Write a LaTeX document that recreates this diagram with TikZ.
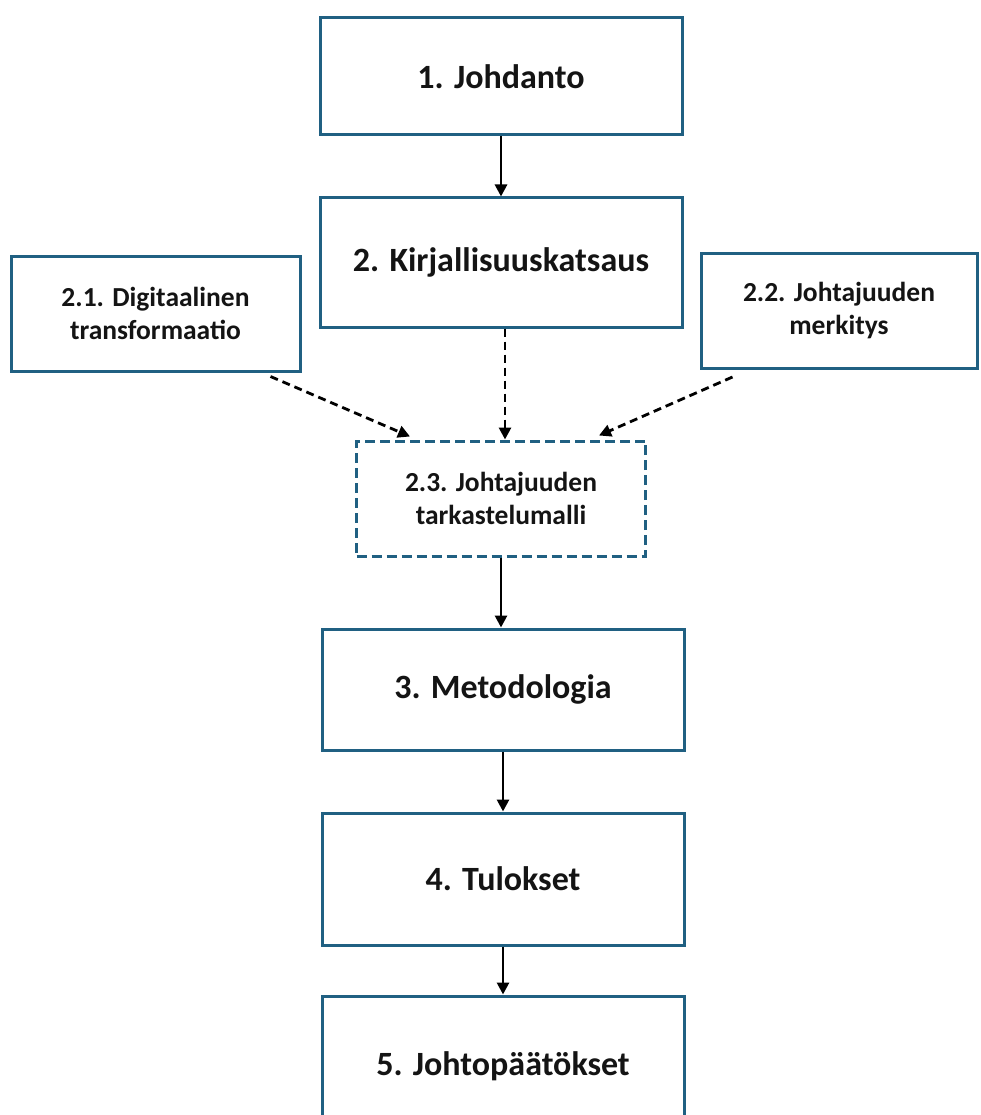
\documentclass[tikz,border=0pt]{standalone}
\usepackage{fontspec}
\setmainfont{Carlito}
\usepackage{tikz}
\usetikzlibrary{arrows.meta,positioning,calc}
\definecolor{boxblue}{RGB}{32,96,130}
\definecolor{textblack}{RGB}{20,20,20}
\tikzset{
  mainbox/.style={draw=boxblue, line width=3pt, minimum width=362pt, align=center,
    fill=white, text=textblack, font=\fontsize{34}{40}\selectfont\bfseries},
  subbox/.style={draw=boxblue, line width=3pt, minimum width=289pt, minimum height=115pt,
    align=center, fill=white, text=textblack, font=\fontsize{27.5}{33}\selectfont\bfseries},
  modelbox/.style={subbox, dash pattern=on 10pt off 5pt},
  flow/.style={-{Triangle[length=12pt,width=12pt]}, line width=2.8pt},
  dashedflow/.style={flow, dash pattern=on 8pt off 5pt}
}

\begin{document}
\begin{tikzpicture}[x=1pt,y=-1pt]
\clip (0,0) rectangle (980,1115);
\useasboundingbox (0,0) rectangle (980,1115);

\node[mainbox, minimum height=117pt] (j) at (501,76.5) {1. Johdanto};
\node[mainbox, minimum height=129pt, below=60pt of j] (k) {2. Kirjallisuuskatsaus};
\node[subbox] (dt) at (155.5,313.5) {2.1. Digitaalinen\\transformaatio};
\node[subbox, minimum width=276pt] (jm) at (839,311) {2.2. Johtajuuden\\merkitys};
\node[modelbox, below=111pt of k] (tm) {2.3. Johtajuuden\\tarkastelumalli};
\node[mainbox, minimum height=121pt, below=70pt of tm, xshift=2pt] (m) {3. Metodologia};
\node[mainbox, minimum height=132pt, below=60pt of m] (t) {4. Tulokset};
\node[mainbox, minimum height=140pt, below=48pt of t] (p) {5. Johtopäätökset};

\draw[flow] (j)--(k);
\draw[dashedflow] ([xshift=4pt]k.south)--([xshift=4pt]tm.north);
\draw[dashedflow] ([xshift=-31pt,yshift=-4pt]dt.south east)--([xshift=55pt,yshift=3pt]tm.north west);
\draw[dashedflow] ([xshift=33pt,yshift=-7pt]jm.south west)--([xshift=-48pt,yshift=4pt]tm.north east);
\draw[flow] (tm)--(tm|-m.north);
\draw[flow] (m)--(t);
\draw[flow] (t)--(p);
\end{tikzpicture}
\end{document}
